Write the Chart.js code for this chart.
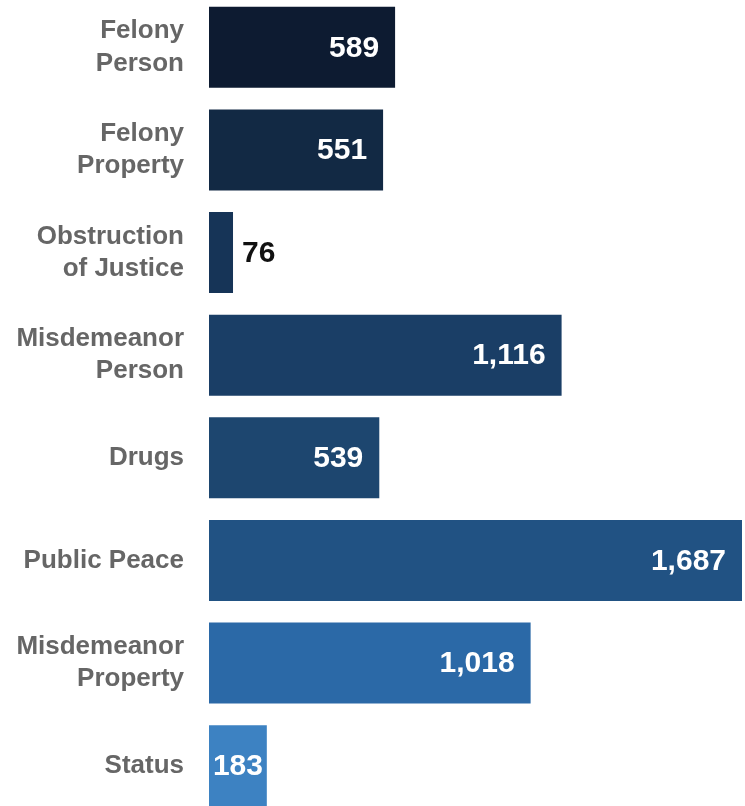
<!DOCTYPE html>
<html>
<head>
<meta charset="utf-8">
<script src="https://cdn.jsdelivr.net/npm/chart.js@4/dist/chart.umd.min.js"></script>
<style>
  html, body { margin: 0; padding: 0; background: #ffffff; overflow: hidden; }
  #wrap { position: absolute; left: 0; top: -4px; width: 745px; height: 821px; }
</style>
</head>
<body>
<div id="wrap"><canvas id="chart"></canvas></div>
<script>
// Offense categories (two-line labels) and case counts
const categories = [
  ['Felony', 'Person'],
  ['Felony', 'Property'],
  ['Obstruction', 'of Justice'],
  ['Misdemeanor', 'Person'],
  'Drugs',
  'Public Peace',
  ['Misdemeanor', 'Property'],
  'Status'
];
const counts = [589, 551, 76, 1116, 539, 1687, 1018, 183];
const barColors = ['#0d1b31', '#122944', '#163457', '#1a3e66', '#1d466f', '#215283', '#2b69a7', '#3d82c2'];

const fmt = v => v.toLocaleString('en-US');

// Value labels: inside the bar end in white, outside in black when the bar is too short
const valueLabels = {
  id: 'valueLabels',
  afterDatasetsDraw(chart) {
    const ctx = chart.ctx;
    const meta = chart.getDatasetMeta(0);
    ctx.save();
    ctx.font = 'bold 30px "Liberation Sans", Arial, sans-serif';
    ctx.textBaseline = 'middle';
    meta.data.forEach((bar, i) => {
      const text = fmt(counts[i]);
      const tw = ctx.measureText(text).width;
      const w = bar.x - bar.base;
      if (tw + 6 > w) {
        ctx.fillStyle = '#111111';
        ctx.textAlign = 'left';
        ctx.fillText(text, bar.x + 9, bar.y + 1);
      } else if (tw + 26 > w) {
        ctx.fillStyle = '#ffffff';
        ctx.textAlign = 'center';
        ctx.fillText(text, (bar.x + bar.base) / 2, bar.y + 1);
      } else {
        ctx.fillStyle = '#ffffff';
        ctx.textAlign = 'right';
        ctx.fillText(text, bar.x - 16, bar.y + 1);
      }
    });
    ctx.restore();
  }
};

new Chart(document.getElementById('chart'), {
  type: 'bar',
  data: {
    labels: categories,
    datasets: [{
      data: counts,
      backgroundColor: barColors,
      borderWidth: 0,
      barPercentage: 1,
      categoryPercentage: 0.79
    }]
  },
  options: {
    indexAxis: 'y',
    responsive: true,
    maintainAspectRatio: false,
    animation: false,
    layout: { padding: { left: 0, right: 3, top: 0, bottom: 0 } },
    plugins: { legend: { display: false }, tooltip: { enabled: false } },
    scales: {
      x: {
        display: false,
        min: 0,
        max: 1687
      },
      y: {
        grid: { display: false, drawTicks: false },
        border: { display: false },
        afterFit(scale) {
          scale.width = 209;
          scale.paddingTop = 0;
          scale.paddingBottom = 0;
        },
        ticks: {
          padding: 25,
          color: '#666666',
          font: { family: '"Liberation Sans", Arial, sans-serif', size: 26, weight: 'bold', lineHeight: 1.24 }
        }
      }
    }
  },
  plugins: [valueLabels]
});
</script>
</body>
</html>
